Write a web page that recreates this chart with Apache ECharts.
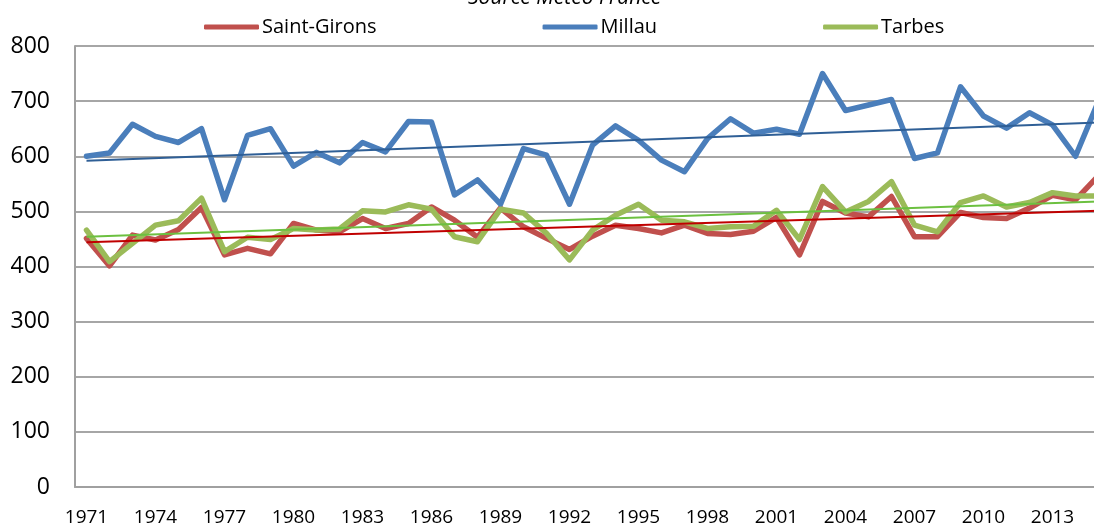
<!DOCTYPE html>
<html>
<head>
<meta charset="utf-8">
<script src="https://cdn.jsdelivr.net/npm/echarts@6/dist/echarts.min.js"></script>
<style>
html,body{margin:0;padding:0;background:#fff;overflow:hidden;}
#chart{width:1130px;height:527px;}
</style>
</head>
<body>
<div id="chart"></div>
<script>
const years = ["1971","1972","1973","1974","1975","1976","1977","1978","1979","1980","1981","1982","1983","1984","1985","1986","1987","1988","1989","1990","1991","1992","1993","1994","1995","1996","1997","1998","1999","2000","2001","2002","2003","2004","2005","2006","2007","2008","2009","2010","2011","2012","2013","2014","2015"];
const saintGirons = [451,401,457,448,467,507,421,433,423,478,466,463,487,469,478,508,484,453,506,472,451,431,455,475,469,461,475,460,458,464,489,421,518,497,490,527,454,454,498,489,487,506,529,521,565];
const millau = [600,606,658,636,625,650,521,638,650,582,607,588,625,608,663,662,530,557,513,614,602,513,620,655,629,593,572,632,668,642,649,640,750,683,693,703,596,606,726,673,651,679,657,600,700];
const tarbes = [466,409,442,475,483,524,427,453,449,469,466,468,501,499,512,504,454,445,504,497,460,412,466,493,513,484,481,469,472,473,502,449,545,499,518,554,475,463,516,528,508,516,534,528,528];
// trend line end values (first year, last year)
const trendSaintGirons = [444, 501];
const trendMillau = [592, 661];
const trendTarbes = [454, 518];
const seriesNames = ["Saint-Girons", "Millau", "Tarbes"];
const sourceText = "Source Météo France";

const FONT = "'Open Sans', 'Liberation Sans', sans-serif";
const chart = echarts.init(document.getElementById('chart'), null, {renderer: 'canvas'});

function mainLine(name, data, color) {
  return {
    name: name, type: 'line', data: data, symbol: 'none', smooth: false,
    lineStyle: {color: color, width: 5.5, join: 'round', cap: 'round'},
    itemStyle: {color: color}, z: 2, animation: false
  };
}
function trendLine(vals, color) {
  return {
    type: 'line', data: [[years[0], vals[0]], [years[years.length - 1], vals[1]]],
    symbol: 'none', lineStyle: {color: color, width: 2}, z: 3, animation: false,
    silent: true, legendHoverLink: false
  };
}

chart.setOption({
  animation: false,
  backgroundColor: '#ffffff',
  graphic: [{
    type: 'text', left: 468, top: -12,
    style: {text: sourceText, font: 'italic 21px ' + FONT, fill: '#000'}
  }],
  legend: {
    data: seriesNames, left: 199, top: 12, itemGap: 166,
    itemWidth: 55, itemHeight: 5, icon: 'roundRect',
    textStyle: {fontFamily: FONT, fontSize: 20, color: '#000', padding: [0, 0, 0, -2]}
  },
  grid: {left: 75, top: 46, width: 1035, height: 441, containLabel: false},
  xAxis: {
    type: 'category', data: years, boundaryGap: true,
    axisLine: {lineStyle: {color: '#a0a0a0', width: 2}},
    axisTick: {show: false},
    axisLabel: {interval: 2, color: '#000', fontFamily: FONT, fontSize: 19, margin: 21}
  },
  yAxis: {
    type: 'value', min: 0, max: 800, interval: 100,
    axisLine: {show: true, lineStyle: {color: '#a0a0a0', width: 2}},
    axisTick: {show: false},
    splitLine: {lineStyle: {color: '#a6a6a6', width: 2}},
    axisLabel: {color: '#000', fontFamily: FONT, fontSize: 23, margin: 25}
  },
  series: [
    mainLine(seriesNames[0], saintGirons, '#c0504d'),
    mainLine(seriesNames[1], millau, '#4a7ebb'),
    mainLine(seriesNames[2], tarbes, '#9bbb59'),
    trendLine(trendSaintGirons, '#c00000'),
    trendLine(trendMillau, '#2f5f96'),
    trendLine(trendTarbes, '#6cc040')
  ]
});
</script>
</body>
</html>
